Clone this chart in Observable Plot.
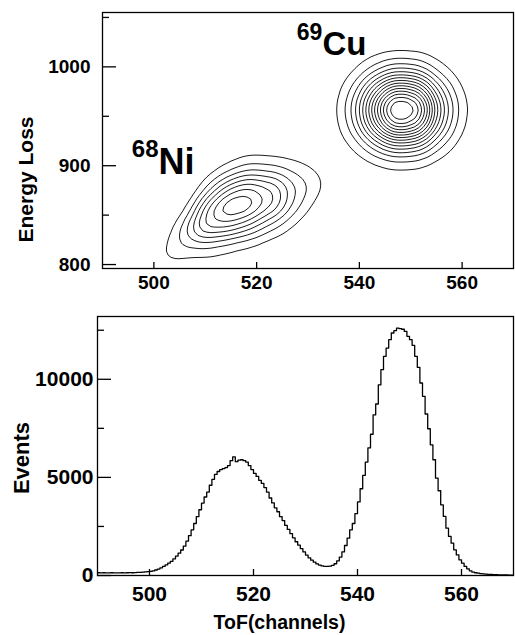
<!DOCTYPE html>
<html><head><meta charset="utf-8">
<script src="https://cdn.jsdelivr.net/npm/d3@7"></script>
<script src="https://cdn.jsdelivr.net/npm/@observablehq/plot@0.6"></script>
<style>
html,body{margin:0;padding:0;background:#fff;}
#chart{position:relative;width:515px;height:635px;overflow:hidden;}
#top{position:absolute;left:0;top:0;}
#bottom{position:absolute;left:0;top:300px;}
</style></head><body><div id="chart"><div id="top"></div><div id="bottom"></div></div>
<script>
// ---------- data ----------
const tofTicks = [500, 520, 540, 560];
const energyTicks = [800, 900, 1000];
const energyMinor = [850, 950, 1050];
const eventTicks = [0, 5000, 10000];
const eventMinor = [2500, 7500, 12500];

// ToF histogram: 0.5-channel bins starting at channel 490
const binStart = 490, binWidth = 0.5;
const eventCounts = [
  140,130,140,135,130,140,130,135,130,140,
  135,140,145,140,150,155,160,170,180,195,
  210,240,280,330,390,460,540,630,720,850,
  990,1140,1300,1500,1750,2030,2330,2650,3000,3350,
  3690,4000,4250,4600,4900,5150,5300,5400,5450,5500,
  5600,5850,6050,5800,5880,5900,5850,5780,5600,5400,
  5200,5050,4850,4700,4480,4250,3950,3700,3450,3250,
  3000,2800,2550,2350,2130,1920,1720,1550,1370,1200,
  1040,900,780,680,590,530,490,470,470,480,
  520,600,750,940,1200,1530,1900,2330,2650,3150,
  3750,4420,5100,5780,6500,7200,8190,8740,9720,10490,
  11170,11590,12020,12360,12480,12610,12580,12550,12440,12190,
  12020,11730,11170,10610,9810,9130,8230,7480,6660,5900,
  4960,4320,3600,3010,2410,1990,1650,1310,1050,800,
  630,460,340,240,170,140,120,100,85,70,
  60,50,45,40,35,30,28,25,22,20
];

// 2D counts (ToF x Energy Loss), 68Ni region
const niTof = [500,502,504,506,508,510,512,514,516,518,520,522,524,526,528,530,532,534];
const niEnergy = [930,920,910,900,890,880,870,860,850,840,830,820,810,800,790,780];
const niCounts = [
  [0,0,0,0,0,0,0,0,0,3,5,3,2,3,3,1,0,0],
  [0,0,0,0,0,0,1,3,7,13,17,12,11,12,11,5,3,0],
  [0,0,0,0,0,0,7,13,27,42,50,41,36,35,31,19,13,5],
  [0,0,0,0,0,4,25,45,79,109,118,106,92,82,68,49,35,17],
  [0,0,0,0,1,19,74,118,183,224,226,213,182,149,115,88,63,31],
  [0,0,0,0,6,63,169,244,331,369,349,333,277,212,151,112,72,31],
  [0,0,0,2,29,155,300,392,473,484,433,407,325,234,155,101,53,17],
  [0,0,1,13,97,279,416,491,533,507,433,387,292,202,124,64,25,5],
  [0,0,6,53,207,368,448,479,473,423,349,287,202,135,77,29,7,0],
  [0,3,28,127,283,356,376,364,331,281,226,166,108,71,37,9,1,0],
  [3,15,71,176,248,254,246,215,183,149,118,74,44,29,14,2,0,0],
  [14,42,102,142,139,133,125,99,79,63,50,26,14,9,4,0,0,0],
  [32,60,80,66,50,51,50,36,27,21,17,7,3,2,1,0,0,0],
  [32,42,35,18,12,14,15,10,7,6,5,2,0,0,0,0,0,0],
  [14,15,8,3,2,3,4,2,2,1,1,0,0,0,0,0,0,0],
  [3,3,1,0,0,0,0,0,0,0,0,0,0,0,0,0,0,0]
];

// 2D counts, 69Cu region
const cuTof = [534,536,538,540,542,544,546,548,550,552,554,556,558,560,562,564];
const cuEnergy = [1030,1020,1010,1000,990,980,970,960,950,940,930,920,910,900,890,880];
const cuCounts = [
  [0,0,1,2,4,6,8,9,8,7,5,3,1,1,0,0],
  [1,2,4,8,18,20,26,29,27,22,15,9,5,2,1,0],
  [2,4,10,26,37,56,72,79,75,61,43,26,13,6,2,1],
  [4,10,24,50,87,131,168,186,176,143,100,60,31,14,5,2],
  [7,20,48,98,172,258,332,366,347,282,197,118,61,27,10,3],
  [12,33,80,162,284,426,549,606,574,467,326,195,100,44,16,5],
  [17,46,111,225,395,592,763,842,798,649,453,271,139,62,23,8],
  [20,54,129,263,461,692,891,984,933,758,529,316,163,72,32,9],
  [19,53,127,259,453,680,876,967,917,745,520,311,160,71,26,9],
  [16,44,105,214,375,562,724,799,758,616,430,257,132,58,22,7],
  [11,31,73,148,260,390,503,555,526,428,299,178,92,41,15,5],
  [7,18,43,87,152,228,294,324,307,250,175,104,54,24,9,3],
  [3,9,21,42,74,112,144,159,150,122,85,51,26,12,4,1],
  [1,4,9,18,31,46,59,66,62,51,35,21,11,5,2,1],
  [0,1,3,6,11,16,21,23,22,18,12,7,4,2,1,0],
  [0,0,1,2,3,5,6,7,6,5,4,2,1,0,0,0]
];

const isotopeMass = ["68", "69"];
const isotopeName = ["Ni", "Cu"];
const isotopeTof = [500.9, 532.8];
const isotopeEnergy = [892, 1012];

// ---------- build tables ----------
function gridCells(tofs, energies, counts) {
  const out = [];
  energies.forEach((e, r) => tofs.forEach((t, c) => {
    if (counts[r][c] > 0) out.push({tof: t, energy: e, n: counts[r][c]});
  }));
  return out;
}
const cells = gridCells(niTof, niEnergy, niCounts).concat(gridCells(cuTof, cuEnergy, cuCounts));
const hist = eventCounts.map((n, i) => ({tof: binStart + i * binWidth, n}));
hist.push({tof: binStart + eventCounts.length * binWidth, n: eventCounts[eventCounts.length - 1]});
const labels = isotopeName.map((name, i) => ({name, mass: isotopeMass[i], tof: isotopeTof[i], energy: isotopeEnergy[i]}));

const FONT = "'Liberation Sans', Arial, Helvetica, sans-serif";
const style = {fontFamily: FONT, background: "white", color: "black", overflow: "visible"};
const plain = d => String(d);

// ---------- top panel ----------
const tW = 515, tH = 300, tL = 102, tR = 2, tT = 12, tB = 32;
const tIW = tW - tL - tR, tIH = tH - tT - tB;
const topPlot = Plot.plot({
  width: tW, height: tH, marginLeft: tL, marginRight: tR, marginTop: tT, marginBottom: tB,
  style,
  x: {domain: [490, 570]},
  y: {domain: [796, 1055]},
  marks: [
    Plot.density(cells, {x: "tof", y: "energy", weight: "n", bandwidth: 7, thresholds: 16, stroke: "black", strokeWidth: 0.9}),
    Plot.frame({stroke: "black", strokeWidth: 1.3}),
    Plot.tickX(tofTicks, {x: d => d, insetTop: tIH - 6, strokeWidth: 1.3}),
    Plot.tickY(energyTicks, {y: d => d, insetRight: tIW - 14, strokeWidth: 1.3}),
    Plot.tickY(energyMinor, {y: d => d, insetRight: tIW - 7, strokeWidth: 1.3}),
    Plot.axisX(tofTicks, {tickSize: 0, tickPadding: 7, fontSize: 19, fontWeight: "bold", label: null, tickFormat: plain}),
    Plot.axisY(energyTicks, {tickSize: 0, tickPadding: 12, fontSize: 19, fontWeight: "bold", label: null, tickFormat: plain}),
    Plot.text(["Energy Loss"], {text: d => d, frameAnchor: "left", rotate: -90, dx: -84, dy: 39, lineAnchor: "top", textAnchor: "middle", fontSize: 21, fontWeight: "bold"}),
    Plot.text(labels.filter(d => d.name === "Ni"), {x: "tof", y: "energy", text: "name", textAnchor: "start", lineAnchor: "bottom", fontSize: 36, fontWeight: "bold"}),
    Plot.text(labels.filter(d => d.name === "Ni"), {x: "tof", y: "energy", text: "mass", textAnchor: "end", lineAnchor: "bottom", dy: -16.5, fontSize: 24, fontWeight: "bold"}),
    Plot.text(labels.filter(d => d.name === "Cu"), {x: "tof", y: "energy", text: "name", textAnchor: "start", lineAnchor: "bottom", fontSize: 33, fontWeight: "bold"}),
    Plot.text(labels.filter(d => d.name === "Cu"), {x: "tof", y: "energy", text: "mass", textAnchor: "end", lineAnchor: "bottom", dy: -15.5, fontSize: 23, fontWeight: "bold"})
  ]
});
document.getElementById("top").appendChild(topPlot);

// ---------- bottom panel ----------
const bW = 515, bH = 335, bL = 97, bR = 2, bT = 16, bB = 60;
const bIW = bW - bL - bR, bIH = bH - bT - bB;
const bottomPlot = Plot.plot({
  width: bW, height: bH, marginLeft: bL, marginRight: bR, marginTop: bT, marginBottom: bB,
  style,
  x: {domain: [490, 570]},
  y: {domain: [0, 13200]},
  marks: [
    Plot.lineY(hist, {x: "tof", y: "n", curve: "step-after", stroke: "black", strokeWidth: 1.3}),
    Plot.frame({stroke: "black", strokeWidth: 1.3}),
    Plot.tickX(tofTicks, {x: d => d, insetTop: bIH - 6, strokeWidth: 1.3}),
    Plot.tickY(eventTicks, {y: d => d, insetRight: bIW - 14, strokeWidth: 1.3}),
    Plot.tickY(eventMinor, {y: d => d, insetRight: bIW - 7, strokeWidth: 1.3}),
    Plot.axisX(tofTicks, {tickSize: 0, tickPadding: 11, fontSize: 21, fontWeight: "bold", label: null, tickFormat: plain}),
    Plot.axisY(eventTicks, {tickSize: 0, tickPadding: 4, fontSize: 21, fontWeight: "bold", label: null, tickFormat: plain}),
    Plot.text(["Events"], {text: d => d, frameAnchor: "left", rotate: -90, dx: -84, dy: 12, lineAnchor: "top", textAnchor: "middle", fontSize: 22, fontWeight: "bold"}),
    Plot.text(["ToF(channels)"], {text: d => d, frameAnchor: "bottom", dx: -26, dy: 40, lineAnchor: "top", textAnchor: "middle", fontSize: 19.5, fontWeight: "bold"})
  ]
});
document.getElementById("bottom").appendChild(bottomPlot);
</script></body></html>
